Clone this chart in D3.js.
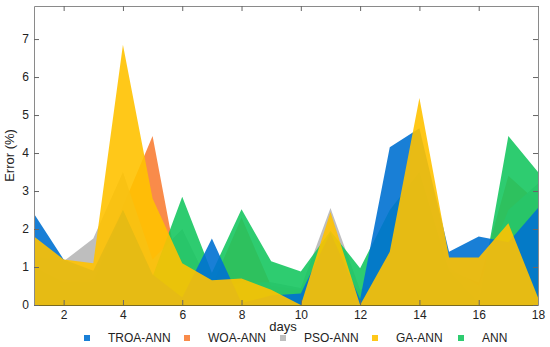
<!DOCTYPE html>
<html>
<head>
<meta charset="utf-8">
<script src="https://cdn.jsdelivr.net/npm/d3@7"></script>
<style>
  body { margin: 0; background: #fff; }
  svg { display: block; font-family: "Liberation Sans", Arial, sans-serif; }
</style>
</head>
<body>
<div id="visualization"></div>
<script>
// values, one per day
const days = [1, 2, 3, 4, 5, 6, 7, 8, 9, 10, 11, 12, 13, 14, 15, 16, 17, 18];
const troaAnn = [2.4, 1.2, 0.9, 2.5, 0.8, 0.2, 1.75, 0.05, 0.25, 0.3, 1.9, 0.15, 4.15, 4.65, 1.4, 1.8, 1.65, 2.55];
const woaAnn = [0.9, 0.6, 0.7, 2.6, 4.45, 0.3, 0.5, 2.3, 0.5, 0.4, 1.4, 0.3, 1.0, 3.0, 0.9, 0.6, 3.4, 2.7];
const psoAnn = [1.3, 1.15, 1.75, 3.5, 1.2, 2.0, 0.4, 0.6, 0.6, 0.45, 2.55, 0.4, 0.8, 2.0, 1.0, 0.5, 2.5, 3.2];
const gaAnn = [1.8, 1.2, 1.1, 6.85, 2.8, 1.1, 0.65, 0.7, 0.4, 0.0, 2.45, 0.0, 1.4, 5.45, 1.25, 1.25, 2.15, 0.2];
const ann = [1.0, 0.6, 0.6, 2.5, 0.75, 2.85, 0.85, 2.52, 1.15, 0.88, 1.95, 0.97, 2.5, 3.5, 0.9, 0.05, 4.45, 3.5];

const seriesNames = ["TROA-ANN", "WOA-ANN", "PSO-ANN", "GA-ANN", "ANN"];
const xTicks = [2, 4, 6, 8, 10, 12, 14, 16, 18];
const yTicks = [0, 1, 2, 3, 4, 5, 6, 7];

const colors = {
    "TROA-ANN": "#0071d1",
    "WOA-ANN": "#f87e36",
    "PSO-ANN": "#b7b7b7",
    "GA-ANN": "#ffc200",
    "ANN": "#17c661"
};

const series = {
    "TROA-ANN": troaAnn,
    "WOA-ANN": woaAnn,
    "PSO-ANN": psoAnn,
    "GA-ANN": gaAnn,
    "ANN": ann
};

// back to front
const drawOrder = ["WOA-ANN", "PSO-ANN", "ANN", "TROA-ANN", "GA-ANN"];

const width = 550;
const height = 347;
const margin = { top: 6, left: 34, bottom: 42, right: 12 };

const svg = d3.select("div#visualization").append("svg")
    .attr("width", width)
    .attr("height", height);

const x = d3.scaleLinear()
    .domain([1, 18])
    .range([margin.left, width - margin.right]);

const y = d3.scaleLinear()
    .domain([0, 7.87])
    .range([height - margin.bottom, margin.top]);

const area = d3.area()
    .x((d, i) => x(days[i]))
    .y0(y(0))
    .y1(d => y(d));

svg.selectAll("path.area")
    .data(drawOrder)
    .join("path")
    .attr("class", "area")
    .attr("d", name => area(series[name]))
    .attr("fill", name => colors[name])
    .attr("fill-opacity", 0.9);

// axes, ticks point inwards
const axisColor = "#8a8a8a";

const bottomAxis = svg.append("g")
    .attr("transform", `translate(0,${y(0)})`)
    .call(d3.axisBottom(x).tickValues(xTicks).tickSizeInner(-5).tickSizeOuter(0).tickPadding(5));

const leftAxis = svg.append("g")
    .attr("transform", `translate(${x(1)},0)`)
    .call(d3.axisLeft(y).tickValues(yTicks).tickSizeInner(-5).tickSizeOuter(0).tickPadding(5));

const topAxis = svg.append("g")
    .attr("transform", `translate(0,${margin.top})`)
    .call(d3.axisTop(x).tickValues(xTicks).tickSizeInner(-5).tickSizeOuter(0).tickFormat(""));

const rightAxis = svg.append("g")
    .attr("transform", `translate(${x(18)},0)`)
    .call(d3.axisRight(y).tickValues(yTicks).tickSizeInner(-5).tickSizeOuter(0).tickFormat(""));

for (const g of [bottomAxis, leftAxis, topAxis, rightAxis]) {
    g.select(".domain").attr("stroke", axisColor);
    g.selectAll(".tick line").attr("stroke", "#666");
    g.selectAll(".tick text")
        .attr("fill", "#222")
        .style("font-size", "12px");
}
bottomAxis.select(".domain").attr("stroke", "#7a6a20");

// axis titles
svg.append("text")
    .attr("x", 283)
    .attr("y", 331)
    .attr("text-anchor", "middle")
    .style("font-size", "13px")
    .attr("fill", "#222")
    .text("days");

svg.append("text")
    .attr("transform", `translate(14,${(y(0) + margin.top) / 2}) rotate(-90)`)
    .attr("text-anchor", "middle")
    .style("font-size", "13px")
    .attr("fill", "#222")
    .text("Error (%)");

// legend
const legendX = [87, 187, 283, 375, 461];
const legend = svg.selectAll("g.legend")
    .data(seriesNames)
    .join("g")
    .attr("class", "legend")
    .attr("transform", (d, i) => `translate(${legendX[i]},338)`);

legend.append("rect")
    .attr("x", -3)
    .attr("y", -3)
    .attr("width", 6)
    .attr("height", 6)
    .attr("fill", d => colors[d])
    .attr("fill-opacity", 0.9);

legend.append("text")
    .attr("x", 21)
    .attr("y", 4)
    .style("font-size", "12px")
    .attr("fill", "#222")
    .text(d => d);
</script>
</body>
</html>
